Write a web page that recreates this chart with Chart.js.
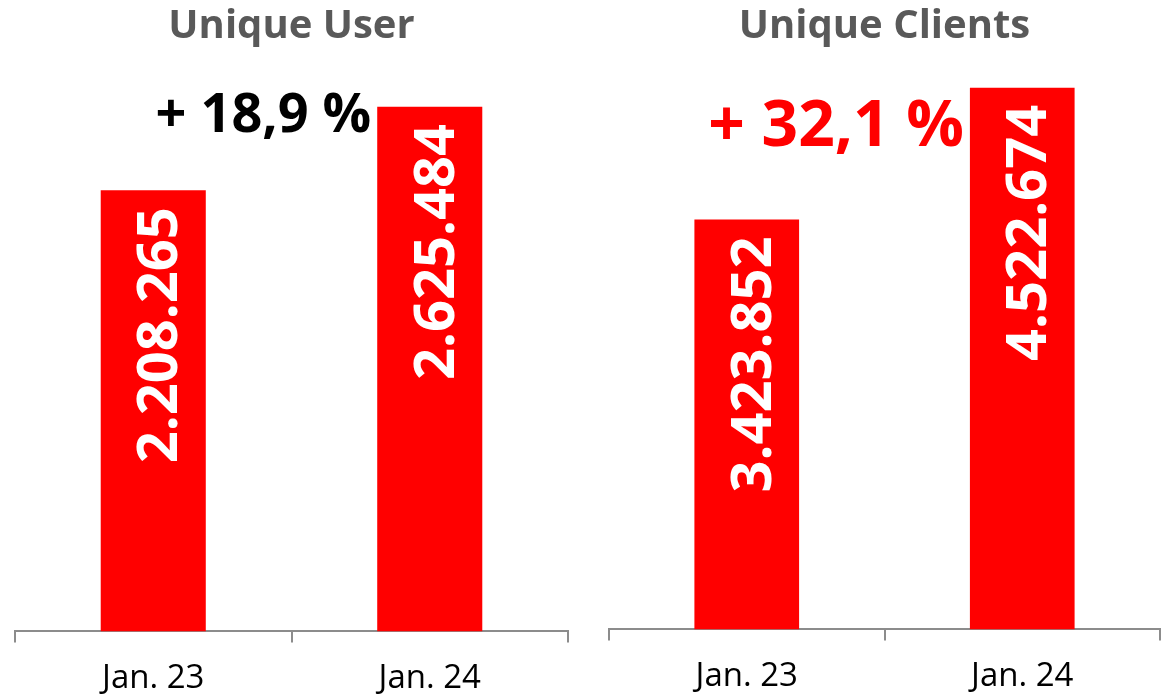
<!DOCTYPE html>
<html>
<head>
<meta charset="utf-8">
<script src="https://cdn.jsdelivr.net/npm/chart.js@4/dist/chart.umd.min.js"></script>
<style>
  html, body { margin: 0; padding: 0; background: #fff; }
  .panel { position: absolute; top: 0; height: 697px; }
  #left { left: 0; width: 585px; }
  #right { left: 585px; width: 585px; }
</style>
</head>
<body>
<div class="panel" id="left"><canvas id="userChart" width="585" height="697"></canvas></div>
<div class="panel" id="right"><canvas id="clientChart" width="585" height="697"></canvas></div>
<script>
const categories = ['Jan. 23', 'Jan. 24'];
const userValues = [2208265, 2625484];
const clientValues = [3423852, 4522674];
const titles = ['Unique User', 'Unique Clients'];
const changeLabels = ['+ 18,9 %', '+ 32,1 %'];

const red = '#ff0000';
const axisGrey = '#8c8c8c';

function dots(v) {
  return String(v).replace(/\B(?=(\d{3})+(?!\d))/g, '.');
}

// white vertical value labels inside the bars + the change label next to bar 2
const barText = {
  id: 'barText',
  afterDatasetsDraw(chart, args, opts) {
    const ctx = chart.ctx;
    const bars = chart.getDatasetMeta(0).data;
    const vals = chart.data.datasets[0].data;
    const size = 56;
    bars.forEach((bar, i) => {
      ctx.save();
      ctx.translate(bar.x, bar.y + 17);
      ctx.rotate(-Math.PI / 2);
      ctx.font = 'bold ' + size + 'px "Open Sans"';
      ctx.fillStyle = '#fff';
      ctx.textAlign = 'right';
      ctx.textBaseline = 'alphabetic';
      ctx.fillText(dots(vals[i]), 0, size * 0.357 + 4);
      ctx.restore();
    });
    const last = bars[bars.length - 1];
    ctx.save();
    ctx.font = 'bold ' + opts.size + 'px "Open Sans"';
    ctx.fillStyle = opts.color;
    ctx.textAlign = 'right';
    ctx.textBaseline = 'alphabetic';
    ctx.fillText(opts.text, last.x - last.width / 2 - 6, last.y + opts.dy + opts.size * 0.357);
    ctx.restore();
  }
};

function makeChart(id, title, values, yMax, pad, change) {
  return new Chart(document.getElementById(id), {
    type: 'bar',
    data: {
      labels: categories,
      datasets: [{
        data: values,
        backgroundColor: red,
        categoryPercentage: 1,
        barPercentage: 0.38
      }]
    },
    options: {
      responsive: false,
      animation: false,
      devicePixelRatio: 1,
      layout: { padding: pad },
      plugins: {
        legend: { display: false },
        tooltip: { enabled: false },
        title: {
          display: true,
          text: title,
          color: '#595959',
          font: { family: 'Open Sans', size: 40, weight: 'bold' },
          padding: { top: 3, bottom: 12 }
        },
        barText: change
      },
      scales: {
        x: {
          grid: {
            display: true,
            offset: true,
            drawOnChartArea: false,
            drawTicks: true,
            tickLength: 11,
            color: axisGrey,
            lineWidth: 2
          },
          border: { display: true, color: axisGrey, width: 2 },
          ticks: {
            color: '#000',
            padding: 16,
            font: { family: 'Open Sans', size: 33 }
          }
        },
        y: {
          display: false,
          min: 0,
          max: yMax
        }
      }
    },
    plugins: [barText]
  });
}

makeChart('userChart', titles[0], userValues, 2845000,
  { left: 15, right: 17, top: 0, bottom: -17 },
  { text: changeLabels[0], color: '#000', size: 54, dy: 6 });

makeChart('clientChart', titles[1], clientValues, 4730000,
  { left: 24, right: 10, top: 0, bottom: -15 },
  { text: changeLabels[1], color: red, size: 64, dy: 35 });
</script>
</body>
</html>
